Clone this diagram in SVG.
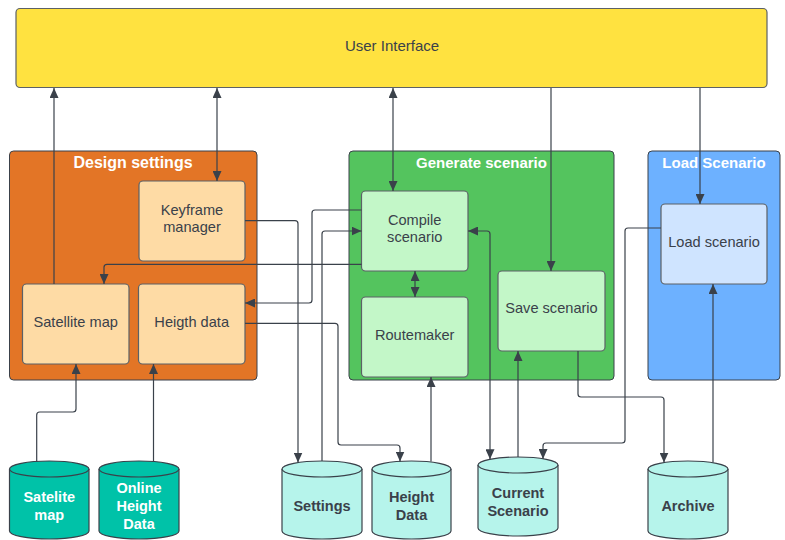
<svg xmlns="http://www.w3.org/2000/svg" width="785" height="540" viewBox="0 0 785 540">
  <defs>
    <marker id="arrow" markerUnits="userSpaceOnUse" markerWidth="11" markerHeight="9" refX="10" refY="4.5" orient="auto-start-reverse">
      <path d="M0,0 L10,4.5 L0,9 Z" fill="#3A414A"/>
    </marker>
    <style>
      .txt { font-family: "Liberation Sans", Arial, sans-serif; font-size: 14.6px; fill: #3A414A; text-anchor: middle; }
      .title { font-family: "Liberation Sans", Arial, sans-serif; font-weight: bold; font-size: 15px; fill: #FFFFFF; text-anchor: middle; }
      .dbtxt { font-family: "Liberation Sans", Arial, sans-serif; font-weight: bold; font-size: 14.5px; text-anchor: middle; }
      .container { stroke: #3A414A; stroke-width: 1; }
      .node { stroke: #5C6166; stroke-width: 1.2; }
      .db-dark { fill: #00C2A8; stroke: #3A414A; stroke-width: 1.2; }
      .db-light { fill: #B6F4EB; stroke: #3A414A; stroke-width: 1.2; }
      .conn { fill: none; stroke: #3A414A; stroke-width: 1.2; }
    </style>
  </defs>

  <!-- top bar -->
  <g id="user-interface">
    <rect x="16" y="8.5" width="751" height="79" rx="4" fill="#FFE240" class="node"/>
    <text class="txt" x="392" y="51" style="font-size:15px">User Interface</text>
  </g>

  <!-- group containers -->
  <g id="design-settings">
    <rect x="9.5" y="151" width="247.5" height="229" rx="4" fill="#E37526" class="container"/>
    <text class="title" x="133" y="167.5" style="font-size:16px">Design settings</text>
  </g>
  <g id="generate-scenario">
    <rect x="349" y="151" width="265" height="229" rx="4" fill="#54C45E" class="container"/>
    <text class="title" x="481.5" y="167.5">Generate scenario</text>
  </g>
  <g id="load-scenario-group">
    <rect x="648" y="151" width="132" height="229" rx="4" fill="#6DB1FF" class="container"/>
    <text class="title" x="714" y="167.5">Load Scenario</text>
  </g>

  <!-- design settings nodes -->
  <g id="keyframe-manager">
    <rect x="139" y="181" width="106" height="80" rx="4" fill="#FEDBA5" class="node"/>
    <text class="txt" x="192" y="215">Keyframe</text>
    <text class="txt" x="192" y="232">manager</text>
  </g>
  <g id="satellite-map">
    <rect x="22.5" y="284" width="106.5" height="80" rx="4" fill="#FEDBA5" class="node"/>
    <text class="txt" x="75.7" y="326.5">Satellite map</text>
  </g>
  <g id="heigth-data">
    <rect x="138.5" y="284" width="106.5" height="80" rx="4" fill="#FEDBA5" class="node"/>
    <text class="txt" x="191.7" y="326.5">Heigth data</text>
  </g>

  <!-- generate scenario nodes -->
  <g id="compile-scenario">
    <rect x="361.5" y="191" width="106.5" height="80" rx="4" fill="#C3F7C8" class="node"/>
    <text class="txt" x="414.7" y="225">Compile</text>
    <text class="txt" x="414.7" y="242">scenario</text>
  </g>
  <g id="routemaker">
    <rect x="361.5" y="297" width="106.5" height="80" rx="4" fill="#C3F7C8" class="node"/>
    <text class="txt" x="414.7" y="340">Routemaker</text>
  </g>
  <g id="save-scenario">
    <rect x="498" y="271" width="107" height="80" rx="4" fill="#C3F7C8" class="node"/>
    <text class="txt" x="551.5" y="313">Save scenario</text>
  </g>

  <!-- load scenario node -->
  <g id="load-scenario">
    <rect x="661" y="204" width="106" height="80" rx="4" fill="#CFE4FF" class="node"/>
    <text class="txt" x="714" y="247">Load scenario</text>
  </g>

  <!-- data stores -->
  <g id="db-satelite-map">
    <path class="db-dark" d="M9.5,469 V531 A39.75,8 0 0 0 89,531 V469"/>
    <ellipse class="db-dark" cx="49.25" cy="469" rx="39.75" ry="8"/>
    <text class="dbtxt" fill="#FFFFFF" x="49.25" y="502">Satelite</text>
    <text class="dbtxt" fill="#FFFFFF" x="49.25" y="520">map</text>
  </g>
  <g id="db-online-height-data">
    <path class="db-dark" d="M99,469 V531 A40,8 0 0 0 179,531 V469"/>
    <ellipse class="db-dark" cx="139" cy="469" rx="40" ry="8"/>
    <text class="dbtxt" fill="#FFFFFF" x="139" y="493">Online</text>
    <text class="dbtxt" fill="#FFFFFF" x="139" y="511">Height</text>
    <text class="dbtxt" fill="#FFFFFF" x="139" y="529">Data</text>
  </g>
  <g id="db-settings">
    <path class="db-light" d="M282,469 V531 A40,8 0 0 0 362,531 V469"/>
    <ellipse class="db-light" cx="322" cy="469" rx="40" ry="8"/>
    <text class="dbtxt" fill="#3A414A" x="322" y="511">Settings</text>
  </g>
  <g id="db-height-data">
    <path class="db-light" d="M372,469 V531 A39.5,8 0 0 0 451,531 V469"/>
    <ellipse class="db-light" cx="411.5" cy="469" rx="39.5" ry="8"/>
    <text class="dbtxt" fill="#3A414A" x="411.5" y="502">Height</text>
    <text class="dbtxt" fill="#3A414A" x="411.5" y="520">Data</text>
  </g>
  <g id="db-current-scenario">
    <path class="db-light" d="M478,465 V528 A40,8 0 0 0 558,528 V465"/>
    <ellipse class="db-light" cx="518" cy="465" rx="40" ry="8"/>
    <text class="dbtxt" fill="#3A414A" x="518" y="498">Current</text>
    <text class="dbtxt" fill="#3A414A" x="518" y="516">Scenario</text>
  </g>
  <g id="db-archive">
    <path class="db-light" d="M648,469 V531 A40,8 0 0 0 728,531 V469"/>
    <ellipse class="db-light" cx="688" cy="469" rx="40" ry="8"/>
    <text class="dbtxt" fill="#3A414A" x="688" y="511">Archive</text>
  </g>

  <!-- connectors -->
  <g id="connectors">
    <path class="conn" d="M54,284 V88" marker-end="url(#arrow)"/>
    <path class="conn" d="M217,181 V88" marker-start="url(#arrow)" marker-end="url(#arrow)"/>
    <path class="conn" d="M393,191 V88" marker-start="url(#arrow)" marker-end="url(#arrow)"/>
    <path class="conn" d="M551,88 V271" marker-end="url(#arrow)"/>
    <path class="conn" d="M700,88 V204" marker-end="url(#arrow)"/>
    <path class="conn" d="M245,220.7 H295 Q298,220.7 298,223.7 V462.5" marker-end="url(#arrow)"/>
    <path class="conn" d="M361.5,210 H315 Q312,210 312,213 V300 Q312,303 309,303 H245" marker-end="url(#arrow)"/>
    <path class="conn" d="M322,461 V234 Q322,231 325,231 H361.5" marker-end="url(#arrow)"/>
    <path class="conn" d="M361.5,264.3 H107 Q104,264.3 104,267.3 V284" marker-end="url(#arrow)"/>
    <path class="conn" d="M245,323.3 H335 Q338,323.3 338,326.3 V442 Q338,445 341,445 H397 Q400,445 400,448 V461.5" marker-end="url(#arrow)"/>
    <path class="conn" d="M431,461.5 V377" marker-end="url(#arrow)"/>
    <path class="conn" d="M415,271 V297" marker-start="url(#arrow)" marker-end="url(#arrow)"/>
    <path class="conn" d="M468,231 H487 Q490,231 490,234 V459.3" marker-start="url(#arrow)" marker-end="url(#arrow)"/>
    <path class="conn" d="M518,457 V351" marker-end="url(#arrow)"/>
    <path class="conn" d="M578,351 V394 Q578,397 581,397 H661 Q664,397 664,400 V462.6" marker-end="url(#arrow)"/>
    <path class="conn" d="M661,228 H628 Q625,228 625,231 V440 Q625,443 622,443 H546 Q543,443 543,446 V459" marker-end="url(#arrow)"/>
    <path class="conn" d="M713,462.5 V284" marker-end="url(#arrow)"/>
    <path class="conn" d="M36.7,461.5 V415 Q36.7,412 39.7,412 H73 Q76,412 76,409 V364" marker-end="url(#arrow)"/>
    <path class="conn" d="M153.5,461.5 V364" marker-end="url(#arrow)"/>
  </g>
</svg>
